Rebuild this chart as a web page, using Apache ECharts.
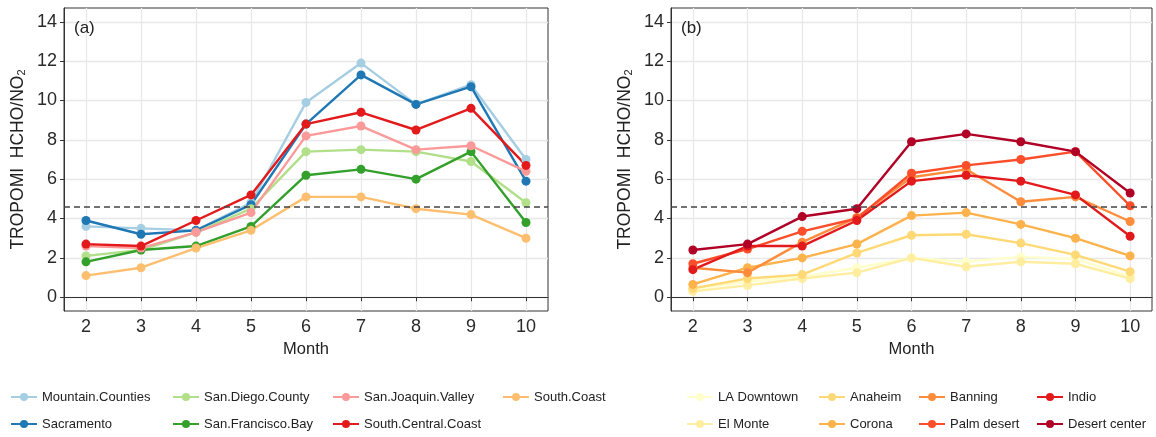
<!DOCTYPE html>
<html><head><meta charset="utf-8">
<script src="https://cdn.jsdelivr.net/npm/echarts@6/dist/echarts.min.js"></script>
<style>html,body{margin:0;padding:0;background:#fff}#c{width:1156px;height:437px}</style>
</head><body><div id="c"></div>
<script>
// ---------- data ----------
const months = [2, 3, 4, 5, 6, 7, 8, 9, 10];
const yTicks = [0, 2, 4, 6, 8, 10, 12, 14];
const thresholdValue = 4.6;

// panel (a)
const mountainCounties  = [3.6, 3.5, 3.4, 4.8, 9.9, 11.9, 9.8, 10.8, 7.0];
const sacramento        = [3.9, 3.2, 3.4, 4.7, 8.8, 11.3, 9.8, 10.7, 5.9];
const sanDiegoCounty    = [2.1, 2.4, 3.3, 4.5, 7.4, 7.5, 7.4, 6.9, 4.8];
const sanFranciscoBay   = [1.8, 2.4, 2.6, 3.6, 6.2, 6.5, 6.0, 7.4, 3.8];
const sanJoaquinValley  = [2.6, 2.5, 3.3, 4.3, 8.2, 8.7, 7.5, 7.7, 6.4];
const southCentralCoast = [2.7, 2.6, 3.9, 5.2, 8.8, 9.4, 8.5, 9.6, 6.7];
const southCoast        = [1.1, 1.5, 2.5, 3.4, 5.1, 5.1, 4.5, 4.2, 3.0];

// panel (b)
const laDowntown   = [0.4, 0.8, 1.05, 1.5, 2.0, 1.8, 2.05, 1.95, 1.05];
const elMonte      = [0.3, 0.6, 0.95, 1.25, 2.0, 1.55, 1.8, 1.7, 0.95];
const anaheim      = [0.45, 0.95, 1.15, 2.25, 3.15, 3.2, 2.75, 2.15, 1.3];
const corona       = [0.65, 1.5, 2.0, 2.7, 4.15, 4.3, 3.7, 3.0, 2.1];
const banning      = [1.5, 1.25, 2.8, 4.05, 6.1, 6.5, 4.85, 5.1, 3.85];
const palmDesert   = [1.7, 2.45, 3.35, 4.0, 6.3, 6.7, 7.0, 7.4, 4.65];
const indio        = [1.4, 2.6, 2.6, 3.9, 5.9, 6.2, 5.9, 5.2, 3.1];
const desertCenter = [2.4, 2.7, 4.1, 4.5, 7.9, 8.3, 7.9, 7.4, 5.3];

const namesA = ['Mountain.Counties', 'Sacramento', 'San.Diego.County', 'San.Francisco.Bay',
                'San.Joaquin.Valley', 'South.Central.Coast', 'South.Coast'];
const valuesA = [mountainCounties, sacramento, sanDiegoCounty, sanFranciscoBay,
                 sanJoaquinValley, southCentralCoast, southCoast];
const namesB = ['LA Downtown', 'El Monte', 'Anaheim', 'Corona', 'Banning', 'Palm desert', 'Indio', 'Desert center'];
const valuesB = [laDowntown, elMonte, anaheim, corona, banning, palmDesert, indio, desertCenter];

// ---------- styles ----------
const colorsA = ['#a6cee3', '#1f78b4', '#b2df8a', '#33a02c', '#fb9a99', '#e31a1c', '#fdbf6f'];
const colorsB = ['#ffffcc', '#ffeda0', '#fed976', '#feb24c', '#fd8d3c', '#fc4e2a', '#e31a1c', '#b10026'];
const FONT = '"Liberation Sans", Arial, sans-serif';

function makeSeries(names, values, colors, idx) {
  return names.map((n, i) => {
    const s = {
      name: n, type: 'line', xAxisIndex: idx, yAxisIndex: idx,
      data: months.map((m, j) => [m, values[i][j]]),
      symbol: 'circle', symbolSize: 9, showSymbol: true,
      lineStyle: { width: 2.4, color: colors[i] },
      itemStyle: { color: colors[i] },
      emphasis: { disabled: true }, animation: false
    };
    if (i === names.length - 1) {
      s.markLine = {
        silent: true, symbol: 'none', label: { show: false }, animation: false,
        lineStyle: { type: [6, 4], color: '#444', width: 1.5 },
        data: [{ yAxis: thresholdValue }]
      };
    }
    return s;
  });
}

function xAxisFor(idx) {
  return {
    gridIndex: idx, type: 'value', min: 1.6, max: 10.4,
    axisLine: { show: true, lineStyle: { color: '#333', width: 1 } },
    axisTick: { show: true, length: 4, lineStyle: { color: '#333' }, customValues: months },
    axisLabel: { customValues: months, fontSize: 18, color: '#2a2a2a', margin: 7, fontFamily: FONT },
    splitLine: { show: true, lineStyle: { color: '#e8e8e8', width: 1.3 } },
    name: 'Month', nameLocation: 'middle', nameGap: 29,
    nameTextStyle: { fontSize: 16.5, color: '#222', fontFamily: FONT }
  };
}
function yAxisFor(idx) {
  return {
    gridIndex: idx, type: 'value', min: -0.7, max: 14.7,
    axisLine: { show: true, lineStyle: { color: '#333', width: 1 } },
    axisTick: { show: true, length: 4, lineStyle: { color: '#333' }, customValues: yTicks },
    axisLabel: { customValues: yTicks, fontSize: 18, color: '#2a2a2a', margin: 7, fontFamily: FONT },
    splitLine: { show: true, lineStyle: { color: '#e8e8e8', width: 1.3 } },
    name: 'TROPOMI  HCHO/NO{sub|2}', nameLocation: 'middle', nameGap: 37,
    nameTextStyle: {
      fontSize: 17.5, color: '#222', fontFamily: FONT,
      rich: { sub: { fontSize: 11, fontFamily: FONT, color: '#222', verticalAlign: 'bottom', padding: [7, 0, 0, 0] } }
    }
  };
}

function legendCol(names, left) {
  return {
    data: names, orient: 'vertical', left: left, top: 390, padding: 0,
    itemWidth: 26, itemHeight: 10, itemGap: 13, selectedMode: false,
    textStyle: { fontSize: 13, color: '#222', fontFamily: FONT, lineHeight: 14 }
  };
}

const chart = echarts.init(document.getElementById('c'), null, { renderer: 'canvas' });
chart.setOption({
  animation: false,
  backgroundColor: '#fff',
  title: [
    { text: '(a)', left: 74, top: 20, padding: 0, textStyle: { fontSize: 17, fontWeight: 'normal', color: '#222', fontFamily: FONT } },
    { text: '(b)', left: 681, top: 20, padding: 0, textStyle: { fontSize: 17, fontWeight: 'normal', color: '#222', fontFamily: FONT } }
  ],
  grid: [
    { left: 64, top: 8, width: 484, height: 303, show: true, borderColor: '#333', borderWidth: 1, backgroundColor: 'transparent' },
    { left: 671, top: 8, width: 481, height: 303, show: true, borderColor: '#333', borderWidth: 1, backgroundColor: 'transparent' }
  ],
  xAxis: [xAxisFor(0), xAxisFor(1)],
  yAxis: [yAxisFor(0), yAxisFor(1)],
  legend: [
    legendCol([namesA[0], namesA[1]], 10),
    legendCol([namesA[2], namesA[3]], 172),
    legendCol([namesA[4], namesA[5]], 332),
    legendCol([namesA[6]], 502),
    legendCol([namesB[0], namesB[1]], 686),
    legendCol([namesB[2], namesB[3]], 818),
    legendCol([namesB[4], namesB[5]], 918),
    legendCol([namesB[6], namesB[7]], 1036)
  ],
  series: makeSeries(namesA, valuesA, colorsA, 0).concat(makeSeries(namesB, valuesB, colorsB, 1))
});
</script>
</body></html>
